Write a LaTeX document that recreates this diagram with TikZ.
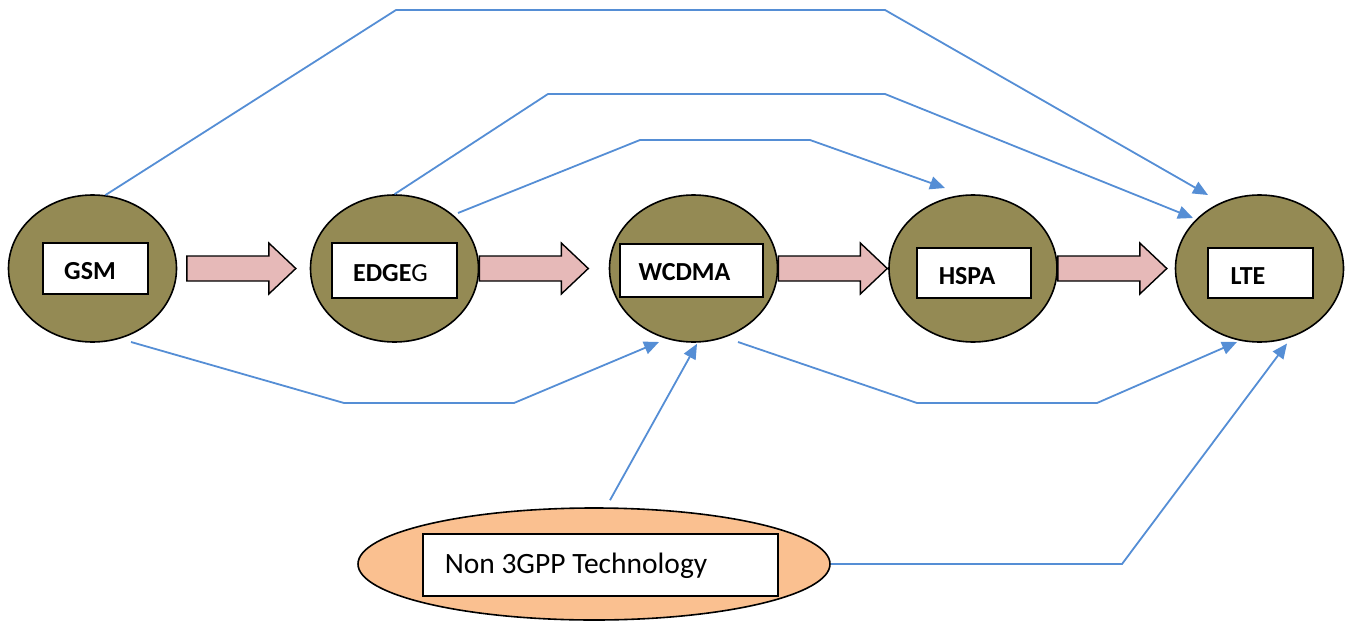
\documentclass[tikz,border=0pt]{standalone}
\usepackage{fontspec}
\setmainfont{Carlito}
\usetikzlibrary{calc,arrows.meta,shapes.geometric}

\definecolor{olivefill}{RGB}{148,138,84}
\definecolor{pinkfill}{RGB}{230,185,184}
\definecolor{peachfill}{RGB}{250,192,144}
\definecolor{linkblue}{RGB}{85,142,213}

\tikzset{
  gen/.style={ellipse, draw=black, line width=1.6pt, fill=olivefill,
    minimum width=168pt, minimum height=147pt, inner sep=0pt},
  other/.style={ellipse, draw=black, line width=1.6pt, fill=peachfill,
    minimum width=472pt, minimum height=112pt, inner sep=0pt},
  namebox/.style={rectangle, draw=black, line width=2pt, fill=white, inner sep=0pt},
  gentext/.style={anchor=base, inner sep=0pt,
    font=\fontsize{26}{31}\selectfont\bfseries},
  othertext/.style={anchor=base, inner sep=0pt,
    font=\fontsize{29.5}{35}\selectfont},
  fat/.style={draw=black, line width=1.4pt, fill=pinkfill, line join=miter},
  link/.style={draw=linkblue, line width=1.8pt, line join=miter,
    -{Triangle[length=15pt,width=13pt]}},
}

% block arrow of fixed length starting at point #1
\newcommand\fatarrow[1]{%
  \path[fat] let \p1=#1 in
    (\x1,\y1-12.5pt) -- (\x1+82pt,\y1-12.5pt) -- (\x1+82pt,\y1-25.5pt) --
    (\x1+109pt,\y1) -- (\x1+82pt,\y1+25.5pt) -- (\x1+82pt,\y1+12.5pt) --
    (\x1,\y1+12.5pt) -- cycle;}

\begin{document}
\begin{tikzpicture}[x=1pt,y=-1pt]
\useasboundingbox (0,0) rectangle (1349,621);

% technology generations
\node[gen] (gsm)   at (92.5,268.5)  {};
\node[gen] (edge)  at (394.5,268.5) {};
\node[gen] (wcdma) at (693.5,268.5) {};
\node[gen] (hspa)  at (973,268.5)   {};
\node[gen] (lte)   at (1259.5,268.5){};
\node[other] (non) at (594,564) {};

% label boxes
\node[namebox, minimum width=105pt, minimum height=51pt] (gsmbox)   at (95.5,268.5)  {};
\node[namebox, minimum width=125pt, minimum height=55pt] (edgebox)  at (394.5,270.5) {};
\node[namebox, minimum width=143pt, minimum height=53pt] (wcdmabox) at (691.5,270.5) {};
\node[namebox, minimum width=114pt, minimum height=50pt] (hspabox)  at (974,273)     {};
\node[namebox, minimum width=105pt, minimum height=50pt] (ltebox)   at (1260.5,273)  {};
\node[namebox, minimum width=355pt, minimum height=62pt] (nonbox)   at (600.5,565)   {};

\node[gentext] (gsmtxt)   at (90,279)    {GSM};
\node[gentext] (edgetxt)  at (390.5,281) {EDGE\mdseries G};
\node[gentext] (wcdmatxt) at (684.5,280) {WCDMA};
\node[gentext] (hspatxt)  at (967,284)   {HSPA};
\node[gentext] (ltetxt)   at (1248,284)  {LTE};
\node[othertext] (nontxt) at (576,573)   {Non 3GPP Technology};

% evolution path
\fatarrow{($(gsm.east)+(9.5,0)$)}
\fatarrow{(edge.east)}
\fatarrow{(wcdma.east)}
\fatarrow{(hspa.east)}

% migration links
\path[link] (gsm.80) -- (396,10) -- (885,10) -- ($(lte.center)+(-51.5,-73.5)$);
\path[link] (edge.north) -- (548,94) -- (885,94) -- ($(lte.center)+(-66.5,-50.5)$);
\path[link] ($(edge.center)+(63.5,-55.5)$) -- (640,140) -- (810,140) -- ($(hspa.center)+(-28,-80.5)$);
\path[link] ($(gsm.center)+(38.5,73.5)$) -- (344,403) -- (514,403) -- ($(wcdma.center)+(-34.5,73.5)$);
\path[link] ($(non.north)+(16,-7)$) -- ($(wcdma.south)+(3.5,1)$);
\path[link] ($(wcdma.center)+(44.5,73.5)$) -- (917,403) -- (1097,403) -- ($(lte.center)+(-22.5,73.5)$);
\path[link] (non.east) -- (1122,564) -- ($(lte.center)+(27.5,75)$);
\end{tikzpicture}
\end{document}
